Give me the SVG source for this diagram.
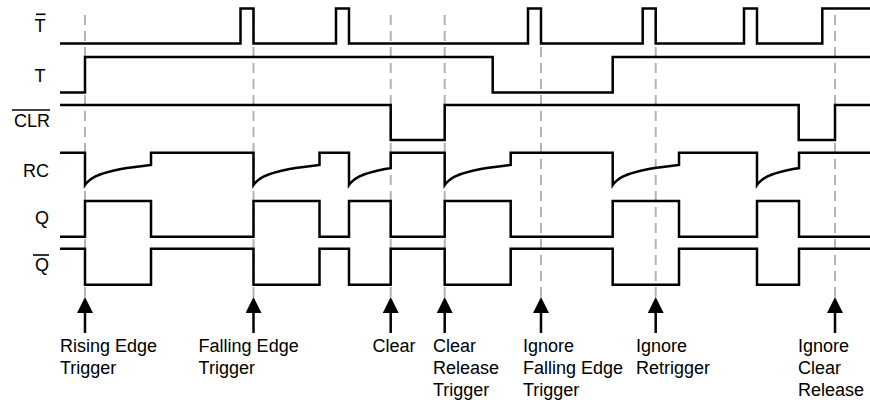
<svg xmlns="http://www.w3.org/2000/svg" width="870" height="402" viewBox="0 0 870 402">
  <defs>
    <style>
      .sig { fill: none; stroke: #000; stroke-width: 2.5; stroke-linejoin: miter; }
      .guide { stroke: #b3b3b3; stroke-width: 2; stroke-dasharray: 10 6; fill: none; }
      .arrow { stroke: #000; stroke-width: 2.5; marker-end: url(#head); }
      .lbl { font-family: "Liberation Sans", Arial, sans-serif; font-size: 18px; fill: #000; }
      .bar { stroke: #000; stroke-width: 1.6; }
    </style>
    <marker id="head" viewBox="0 0 16 16" refX="8" refY="8" markerWidth="16" markerHeight="16" markerUnits="userSpaceOnUse" orient="auto">
      <path d="M0,0 L16,8 L0,16 Z" fill="#000"/>
    </marker>
  </defs>
  <rect width="870" height="402" fill="#fff"/>

  <g id="guides">
    <line class="guide" x1="85" y1="15" x2="85" y2="297"/>
    <line class="guide" x1="253.5" y1="15" x2="253.5" y2="297"/>
    <line class="guide" x1="390.7" y1="15" x2="390.7" y2="297"/>
    <line class="guide" x1="444.7" y1="15" x2="444.7" y2="297"/>
    <line class="guide" x1="541" y1="15" x2="541" y2="297"/>
    <line class="guide" x1="655.7" y1="15" x2="655.7" y2="297"/>
    <line class="guide" x1="835" y1="15" x2="835" y2="297"/>
  </g>

  <g id="signal-tbar">
    <path class="sig" d="M60,43.5 H240.5 V8.5 H253.5 V43.5 H336 V8.5 H349 V43.5 H528 V8.5 H541 V43.5 H642.7 V8.5 H655.7 V43.5 H744 V8.5 H757 V43.5 H822.3 V8.5 H870"/>
    <text class="lbl" x="45.5" y="32" text-anchor="end">T</text>
    <line class="bar" x1="36" y1="14.3" x2="45.5" y2="14.3"/>
  </g>

  <g id="signal-t">
    <path class="sig" d="M60,92.6 H85 V57 H492.7 V92.6 H612.7 V57 H870"/>
    <text class="lbl" x="45.5" y="82" text-anchor="end">T</text>
  </g>

  <g id="signal-clr">
    <path class="sig" d="M60,105 H390.7 V140 H444.7 V105 H798.7 V140 H835 V105 H870"/>
    <text class="lbl" x="50" y="127" text-anchor="end">CLR</text>
    <line class="bar" x1="12" y1="110" x2="50" y2="110"/>
  </g>

  <g id="signal-rc">
    <path class="sig" d="M60,152.7 H85 V185 L86,183.6 87,182.5 89,180.6 92,178.4 95,176.7 100,174.5 105,172.9 113,170.8 121,169.1 127,168.1 135,166.9 143,165.9 151,165 V152.7 H253.5 V185 L254.5,183.6 255.5,182.5 257.5,180.6 260.5,178.4 263.5,176.7 268.5,174.5 273.5,172.9 281.5,170.8 289.5,169.1 295.5,168.1 303.5,166.9 311.5,165.9 319.5,165 V152.7 H349 V185 L350,183.6 351,182.5 353,180.6 356,178.4 359,176.7 364,174.5 369,172.9 377,170.8 385,169.1 390.7,168.2 V152.7 H444.7 V185 L445.7,183.6 446.7,182.5 448.7,180.6 451.7,178.4 454.7,176.7 459.7,174.5 464.7,172.9 472.7,170.8 480.7,169.1 486.7,168.1 494.7,166.9 502.7,165.9 510.7,165 V152.7 H612.7 V185 L613.7,183.6 614.7,182.5 616.7,180.6 619.7,178.4 622.7,176.7 627.7,174.5 632.7,172.9 640.7,170.8 648.7,169.1 654.7,168.1 662.7,166.9 670.7,165.9 679,165 V152.7 H757 V185 L758,183.6 759,182.5 761,180.6 764,178.4 767,176.7 772,174.5 777,172.9 785,170.8 793,169.1 799,168.1 V152.7 H870"/>
    <text class="lbl" x="49" y="177" text-anchor="end">RC</text>
  </g>

  <g id="signal-q">
    <path class="sig" d="M60,236.7 H85 V201 H151 V236.7 H253.5 V201 H319.5 V236.7 H349 V201 H390.7 V236.7 H444.7 V201 H510.7 V236.7 H612.7 V201 H679 V236.7 H757 V201 H799 V236.7 H870"/>
    <text class="lbl" x="49" y="224" text-anchor="end">Q</text>
  </g>

  <g id="signal-qbar">
    <path class="sig" d="M60,248.7 H85 V284.7 H151 V248.7 H253.5 V284.7 H319.5 V248.7 H349 V284.7 H390.7 V248.7 H444.7 V284.7 H510.7 V248.7 H612.7 V284.7 H679 V248.7 H757 V284.7 H799 V248.7 H870"/>
    <text class="lbl" x="49" y="271" text-anchor="end">Q</text>
    <line class="bar" x1="33" y1="255" x2="49" y2="255"/>
  </g>

  <g id="connectors">
    <line class="arrow" x1="85" y1="333" x2="85" y2="305"/>
    <line class="arrow" x1="253.5" y1="333" x2="253.5" y2="305"/>
    <line class="arrow" x1="390.7" y1="333" x2="390.7" y2="305"/>
    <line class="arrow" x1="444.7" y1="333" x2="444.7" y2="305"/>
    <line class="arrow" x1="541" y1="333" x2="541" y2="305"/>
    <line class="arrow" x1="655.7" y1="333" x2="655.7" y2="305"/>
    <line class="arrow" x1="835" y1="333" x2="835" y2="305"/>
  </g>

  <g id="label-rising">
    <text class="lbl" x="60" y="352">Rising Edge</text>
    <text class="lbl" x="60" y="374">Trigger</text>
  </g>
  <g id="label-falling">
    <text class="lbl" x="198.6" y="352">Falling Edge</text>
    <text class="lbl" x="198.6" y="374">Trigger</text>
  </g>
  <g id="label-clear">
    <text class="lbl" x="372.4" y="352">Clear</text>
  </g>
  <g id="label-clear-release">
    <text class="lbl" x="433" y="352">Clear</text>
    <text class="lbl" x="433" y="374">Release</text>
    <text class="lbl" x="433" y="396">Trigger</text>
  </g>
  <g id="label-ignore-falling">
    <text class="lbl" x="523" y="352">Ignore</text>
    <text class="lbl" x="523" y="374">Falling Edge</text>
    <text class="lbl" x="523" y="396">Trigger</text>
  </g>
  <g id="label-ignore-retrigger">
    <text class="lbl" x="636" y="352">Ignore</text>
    <text class="lbl" x="636" y="374">Retrigger</text>
  </g>
  <g id="label-ignore-clear">
    <text class="lbl" x="798" y="352">Ignore</text>
    <text class="lbl" x="798" y="374">Clear</text>
    <text class="lbl" x="798" y="396">Release</text>
  </g>
</svg>
